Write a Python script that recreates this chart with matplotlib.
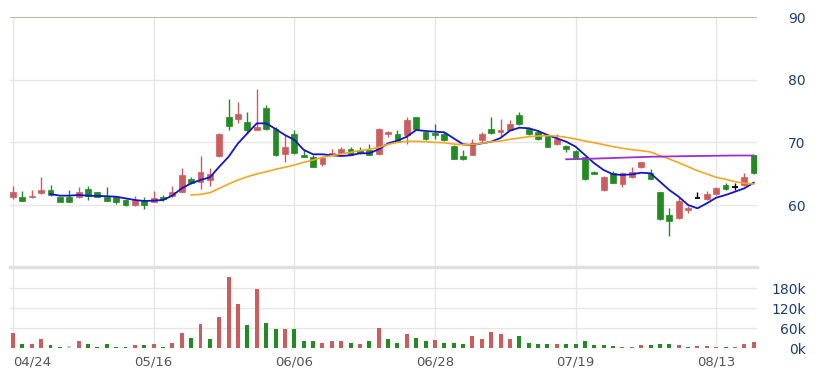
import matplotlib
matplotlib.use('Agg')
import matplotlib.pyplot as plt
import numpy as np

# ---------------- data ----------------
opens = [61.3, 61.3, 61.2, 61.9, 62.4, 61.2, 61.2, 61.3, 62.6, 62.0,
         61.3, 61.2, 60.8, 59.95, 60.7, 60.5, 61.2, 61.4, 62.1, 64.1,
         63.7, 64.0, 67.8, 74.1, 73.7, 73.3, 72.0, 75.4, 72.2, 68.1,
         71.3, 68.0, 67.7, 66.5, 68.0, 68.35, 68.9, 68.8, 68.8, 68.1,
         71.3, 71.4, 71.2, 74.0, 71.6, 71.45, 71.4, 69.4, 67.8, 68.0,
         70.3, 72.1, 71.7, 72.0, 74.4, 72.2, 71.7, 71.0, 69.7, 69.4,
         68.6, 67.6, 65.3, 62.4, 65.05, 63.35, 64.4, 66.0, 65.05, 62.0,
         58.35, 57.9, 59.2, 61.05, 60.9, 61.7, 63.2, 62.8, 63.2, 68.0]
highs = [63.0, 62.2, 62.4, 64.4, 63.2, 61.3, 62.4, 62.8, 63.0, 62.0,
         62.8, 61.3, 60.9, 61.5, 61.3, 62.2, 61.6, 63.0, 65.9, 64.4,
         67.8, 65.85, 71.5, 76.9, 76.4, 74.8, 78.5, 76.0, 72.4, 71.2,
         71.9, 68.9, 67.9, 67.8, 68.9, 69.2, 69.3, 69.3, 69.8, 72.3,
         71.8, 71.9, 74.0, 74.1, 71.8, 72.9, 71.6, 69.5, 68.7, 70.5,
         71.6, 74.0, 73.8, 73.6, 74.8, 72.4, 71.9, 71.1, 71.4, 69.5,
         68.8, 67.7, 65.4, 64.7, 65.5, 65.3, 66.0, 66.9, 65.75, 62.1,
         59.6, 61.2, 59.9, 62.0, 62.3, 62.8, 63.55, 63.45, 65.15, 68.0]
lows = [60.9, 60.6, 61.1, 61.8, 61.5, 60.4, 60.4, 61.1, 60.8, 61.2,
        60.6, 60.2, 59.9, 59.9, 59.3, 60.4, 60.7, 61.3, 62.0, 63.3,
        62.5, 63.0, 67.7, 71.9, 73.1, 71.5, 71.9, 72.0, 67.8, 66.9,
        68.1, 67.6, 66.0, 66.3, 67.9, 68.3, 67.9, 68.2, 67.9, 68.0,
        70.8, 70.0, 69.7, 72.0, 70.4, 70.6, 70.2, 67.3, 67.2, 67.9,
        70.1, 71.4, 70.9, 71.9, 72.8, 71.2, 70.4, 69.2, 69.6, 68.4,
        67.4, 64.0, 64.9, 62.3, 63.5, 62.9, 64.3, 65.9, 64.1, 57.6,
        55.05, 57.8, 58.8, 61.05, 60.85, 61.6, 62.4, 62.4, 63.1, 65.0]
closes = [62.1, 60.7, 61.5, 62.4, 61.6, 60.5, 60.5, 62.0, 61.5, 61.2,
          60.7, 60.4, 60.0, 60.8, 60.05, 61.1, 61.0, 62.0, 64.8, 63.5,
          65.2, 64.95, 71.4, 72.65, 74.6, 71.9, 72.5, 72.1, 67.9, 69.2,
          68.25, 67.7, 66.1, 67.55, 68.35, 68.9, 68.0, 68.25, 68.0, 72.2,
          71.7, 70.1, 73.5, 72.1, 70.5, 71.2, 70.3, 67.4, 67.3, 69.9,
          71.4, 71.5, 71.95, 73.0, 72.9, 71.3, 70.5, 69.3, 70.5, 68.9,
          67.45, 64.1, 64.95, 64.5, 63.55, 65.05, 65.3, 66.8, 64.15, 57.7,
          57.45, 60.65, 59.6, 61.05, 61.7, 62.65, 62.5, 62.8, 64.4, 65.15]

volumes_k = [47, 12, 12, 27, 9, 4, 7, 21, 13, 4,
             12, 4, 4, 10, 10, 13, 4, 17, 47, 32,
             73, 28, 95, 213, 133, 70, 178, 77, 58, 58,
             58, 21, 21, 17, 21, 21, 17, 13, 21, 62,
             28, 17, 43, 32, 21, 25, 17, 17, 14, 36,
             28, 48, 43, 28, 36, 17, 13, 13, 13, 13,
             13, 21, 9, 9, 8, 3, 4, 9, 9, 13,
             13, 9, 3, 7, 7, 3, 3, 3, 13, 20]
# +1 up vs previous close, -1 down, 0 unchanged
volume_dir = [1, -1, 1, 1, -1, -1, 0, 1, -1, -1,
              -1, -1, -1, 1, -1, 1, -1, 1, 1, -1,
              1, -1, 1, 1, 1, -1, 1, -1, -1, 1,
              -1, -1, -1, 1, 1, 1, -1, 1, -1, 1,
              -1, -1, 1, -1, -1, 1, -1, -1, -1, 1,
              1, 1, 1, 1, -1, -1, -1, -1, 1, -1,
              -1, -1, -1, -1, -1, 1, 1, 1, -1, -1,
              -1, 1, -1, 1, 1, 1, -1, 1, 1, 1]

ma5 = [61.75, 61.49, 61.49, 61.6, 61.49, 61.44, 61.4, 61.32, 61.06, 60.8,
       60.64, 60.7, 60.8, 61.5, 62.66, 63.46, 63.99, 64.42, 66.11, 67.71,
       69.84, 71.44, 73.03, 73.03, 72.13, 71.17, 70.4, 68.8, 68.09, 68.09,
       67.93, 67.82, 67.93, 68.25, 68.25, 68.89, 69.84, 70.26, 70.9, 71.97,
       71.81, 71.7, 71.6, 70.64, 69.68, 69.57, 69.84, 70.1, 70.7, 71.86,
       72.34, 72.24, 71.81, 71.17, 70.64, 70.1, 69.31, 67.98, 66.65, 65.58,
       64.9, 64.79, 64.9, 65.15, 65.06, 63.72, 62.39, 61.32, 60.0, 59.47,
       60.27, 61.17, 61.6, 62.12, 62.66, 63.56]
ma20 = [61.6, 61.7, 61.97, 62.66, 63.35, 63.99, 64.52, 64.95, 65.31, 65.7,
        66.02, 66.38, 66.81, 67.18, 67.6, 67.87, 68.14, 68.41, 68.67, 68.89,
        69.2, 69.68, 70.0, 70.16, 70.16, 70.1, 70.0, 69.94, 69.73, 69.62,
        69.62, 69.84, 70.1, 70.21, 70.48, 70.69, 70.9, 71.01, 71.06, 71.01,
        70.8, 70.53, 70.21, 69.94, 69.62, 69.31, 69.05, 68.83, 68.67, 68.46,
        67.87, 67.34, 66.75, 66.11, 65.47, 64.95, 64.42, 64.1, 63.72, 63.46,
        63.35]
ma60 = [67.3, 67.33, 67.36, 67.4, 67.45, 67.5, 67.55, 67.6, 67.65, 67.7,
        67.72, 67.75, 67.78, 67.8, 67.82, 67.84, 67.86, 67.88, 67.9, 67.9,
        67.9]

tick_idx = [0, 15, 30, 45, 60, 75]
tick_labels = ['04/24', '05/16', '06/06', '06/28', '07/19', '08/13']
price_ticks = [60, 70, 80, 90]
vol_ticks = [0, 60, 120, 180]
vol_tick_labels = ['0k', '60k', '120k', '180k']

# ---------------- style ----------------
RED = '#cd5c5c'
GREEN = '#228b22'
GRID = '#e6e6e6'
LABEL_BLUE = '#1c3f73'
W, H = 817, 385

fig = plt.figure(figsize=(W / 100, H / 100), dpi=100)
left_px, right_px = 10, 757
ax1 = fig.add_axes([left_px / W, 1 - 266 / H, (right_px - left_px) / W, (266 - 17) / H])
ax2 = fig.add_axes([left_px / W, 1 - 348.3 / H, (right_px - left_px) / W, (348.3 - 267) / H])

n = len(closes)
x = np.arange(n)
xmin, xmax = -0.32, 79.35

# candles
for i in range(n):
    o, h, l, c = opens[i], highs[i], lows[i], closes[i]
    if c > o:
        col = RED
    elif c < o:
        col = GREEN
    else:
        col = 'black'
    ax1.vlines(i, l, h, color=col, lw=1.0, zorder=3)
    if c == o:
        ax1.hlines(c, i - 0.3, i + 0.3, color=col, lw=1.3, zorder=3)
    else:
        ax1.bar(i, abs(c - o), bottom=min(o, c), width=0.62, color=col,
                edgecolor=col, lw=0.5, zorder=3)

ax1.plot(x[4:], ma5, color='#1414cc', lw=1.3, zorder=4)
ax1.plot(x[19:], ma20, color='#f5a623', lw=1.2, zorder=4)
ax1.plot(x[59:], ma60, color='#9b2fd0', lw=1.3, zorder=4)

ax1.set_xlim(xmin, xmax)
ax1.set_ylim(60 - (266 - 205) / 6.267, 90)
for p in price_ticks[:-1]:
    ax1.axhline(p, color=GRID, lw=1, zorder=0)
ax1.axhline(price_ticks[-1], color='#c2a883', lw=1.2, zorder=1)
for t in tick_idx:
    ax1.axvline(t, color=GRID, lw=1, zorder=0)
ax1.set_xticks([])
ax1.yaxis.tick_right()
ax1.set_yticks(price_ticks)
ax1.set_yticklabels([str(p) for p in price_ticks])
ax1.tick_params(axis='y', length=0, pad=35, labelsize=10, labelcolor=LABEL_BLUE)
for lab in ax1.get_yticklabels():
    lab.set_horizontalalignment('right')
for s in ax1.spines.values():
    s.set_visible(False)

# volume
vcols = [RED if d > 0 else (GREEN if d < 0 else '#c8c8c8') for d in volume_dir]
ax2.bar(x, volumes_k, width=0.42, color=vcols, zorder=3)
ax2.set_xlim(xmin, xmax)
ax2.set_ylim(0, (348.3 - 267) * 3)
for v in vol_ticks[1:]:
    ax2.axhline(v, color=GRID, lw=1, zorder=0)
for t in tick_idx:
    ax2.axvline(t, color=GRID, lw=1, zorder=0)
ax2.yaxis.tick_right()
ax2.set_yticks(vol_ticks)
ax2.set_yticklabels(vol_tick_labels)
ax2.tick_params(axis='y', length=0, pad=35, labelsize=10, labelcolor=LABEL_BLUE)
for lab in ax2.get_yticklabels():
    lab.set_horizontalalignment('right')
ax2.set_xticks(tick_idx)
ax2.set_xticklabels(tick_labels)
ax2.tick_params(axis='x', length=0, pad=5, labelsize=9.5, labelcolor='#555555')
ax2.get_xticklabels()[0].set_horizontalalignment('left')
for k, s in ax2.spines.items():
    s.set_visible(k == 'top')
ax2.spines['top'].set_color('#e0e0e0')
ax2.spines['top'].set_linewidth(2.5)

fig.savefig('out.png', dpi=100, facecolor='white')
